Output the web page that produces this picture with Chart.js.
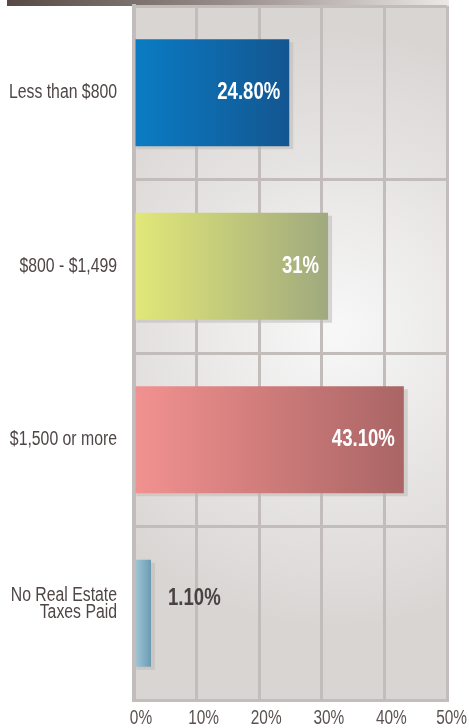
<!DOCTYPE html>
<html>
<head>
<meta charset="utf-8">
<script src="https://cdn.jsdelivr.net/npm/chart.js@4/dist/chart.umd.min.js"></script>
<style>
  html, body { margin: 0; padding: 0; background: #fff; }
  #wrap { position: relative; width: 469px; height: 728px; }
</style>
</head>
<body>
<div id="wrap"><canvas id="taxChart" width="469" height="728"></canvas></div>
<script>
// data
const categories = ['Less than $800', '$800 - $1,499', '$1,500 or more', ['No Real Estate', 'Taxes Paid']];
const shares = [24.8, 31, 43.1, 1.1];
const shareLabels = ['24.80%', '31%', '43.10%', '1.10%'];
const xTickValues = [0, 10, 20, 30, 40, 50];

// left / right gradient stops per bar
const barLeft = ['#0a7cc4', '#e2e878', '#f29290', '#a5cad9'];
const barRight = ['#135691', '#a0a97e', '#aa6565', '#6b9bb1'];

// the original uses a condensed face; squeeze Liberation Sans to get close
const FONT = "'Liberation Sans', Arial, sans-serif";
const SQUEEZE = 0.79;
const GRID = '#c2bdbb';

function narrowText(ctx, text, x, y, align) {
  ctx.save();
  ctx.translate(x, y);
  ctx.scale(SQUEEZE, 1);
  ctx.textAlign = align;
  ctx.fillText(text, 0, 0);
  ctx.restore();
}

// backdrop: brown band on top + light gray plot area with a soft highlight
const backdrop = {
  id: 'backdrop',
  beforeDraw(chart) {
    const { ctx, chartArea: a } = chart;
    ctx.save();
    const band = ctx.createLinearGradient(7, 0, a.right + 2, 0);
    band.addColorStop(0, '#574a45');
    band.addColorStop(0.5, '#988d8a');
    band.addColorStop(1, '#ebe8e6');
    ctx.fillStyle = band;
    ctx.fillRect(7, 0, a.right + 2 - 7, 6);

    const bg = ctx.createRadialGradient(335, 330, 10, 335, 330, 300);
    bg.addColorStop(0, '#f7f7f7');
    bg.addColorStop(0.55, '#e6e4e3');
    bg.addColorStop(1, '#d9d5d3');
    ctx.fillStyle = bg;
    ctx.fillRect(a.left, a.top, a.right - a.left, a.bottom - a.top);
    ctx.restore();
  }
};

// faint drop shadow behind each bar
const barShadow = {
  id: 'barShadow',
  beforeDatasetsDraw(chart) {
    const { ctx } = chart;
    const meta = chart.getDatasetMeta(0);
    ctx.save();
    ctx.fillStyle = 'rgba(190, 185, 183, 0.55)';
    meta.data.forEach(bar => {
      const h = bar.height;
      ctx.fillRect(bar.base + 1, bar.y - h / 2 + 3, bar.x - bar.base + 3, h);
    });
    ctx.restore();
  }
};

// value text at the end of the bars + axis labels in the narrow face
const texts = {
  id: 'texts',
  afterDatasetsDraw(chart) {
    const { ctx, scales } = chart;
    const meta = chart.getDatasetMeta(0);
    ctx.save();
    ctx.textBaseline = 'middle';

    ctx.font = 'bold 23.5px ' + FONT;
    meta.data.forEach((bar, i) => {
      const txt = shareLabels[i];
      const w = ctx.measureText(txt).width * SQUEEZE;
      if (bar.x - bar.base > w + 20) {
        ctx.fillStyle = '#ffffff';
        narrowText(ctx, txt, bar.x - 9, bar.y, 'right');
      } else {
        ctx.fillStyle = '#4a4242';
        narrowText(ctx, txt, bar.x + 17, bar.y - 15, 'left');
      }
    });

    // category labels (the two-line one sits a bit higher)
    ctx.fillStyle = '#4f4646';
    ctx.font = '20px ' + FONT;
    const right = scales.y.right - 17;
    categories.forEach((c, i) => {
      const lines = Array.isArray(c) ? c : [c];
      const multi = lines.length > 1;
      const yc = scales.y.getPixelForValue(i) + (multi ? -9 : 0);
      const lh = 17;
      lines.forEach((ln, k) => {
        narrowText(ctx, ln, right, yc + (k - (lines.length - 1) / 2) * lh, 'right');
      });
    });

    // percentage ticks
    ctx.font = '19.5px ' + FONT;
    ctx.fillStyle = '#5b5250';
    xTickValues.forEach(v => {
      const txt = v + '%';
      const w = ctx.measureText(txt).width * SQUEEZE;
      const x = Math.min(scales.x.getPixelForValue(v) + 7, chart.width - w / 2 - 2);
      narrowText(ctx, txt, x, scales.x.top + 19, 'center');
    });
    ctx.restore();
  }
};

new Chart(document.getElementById('taxChart'), {
  type: 'bar',
  data: {
    labels: categories,
    datasets: [{
      data: shares,
      backgroundColor(c) {
        const chart = c.chart;
        const i = c.dataIndex;
        if (!chart.chartArea || i === undefined) return barLeft[i || 0];
        const x0 = chart.scales.x.getPixelForValue(0);
        const x1 = Math.max(chart.scales.x.getPixelForValue(shares[i]), x0 + 17);
        const g = chart.ctx.createLinearGradient(x0, 0, x1, 0);
        g.addColorStop(0, barLeft[i]);
        g.addColorStop(1, barRight[i]);
        return g;
      },
      borderWidth: 0,
      minBarLength: 17,
      categoryPercentage: 1,
      barPercentage: 0.617
    }]
  },
  options: {
    indexAxis: 'y',
    responsive: false,
    animation: false,
    layout: { padding: { left: 0, right: 22, top: 6, bottom: 0 } },
    plugins: {
      legend: { display: false },
      tooltip: { enabled: false }
    },
    scales: {
      x: {
        min: 0,
        max: 50,
        afterBuildTicks(scale) {
          scale.ticks = xTickValues.map(v => ({ value: v }));
        },
        afterFit(scale) { scale.height = 28; },
        grid: { color: GRID, lineWidth: 3, drawTicks: false },
        border: { display: true, color: GRID, width: 3 },
        ticks: { display: false }
      },
      y: {
        afterFit(scale) { scale.width = 134; },
        grid: { color: GRID, lineWidth: 3, offset: true, drawTicks: false },
        border: { display: true, color: GRID, width: 4 },
        ticks: { display: false }
      }
    }
  },
  plugins: [backdrop, barShadow, texts]
});
</script>
</body>
</html>
